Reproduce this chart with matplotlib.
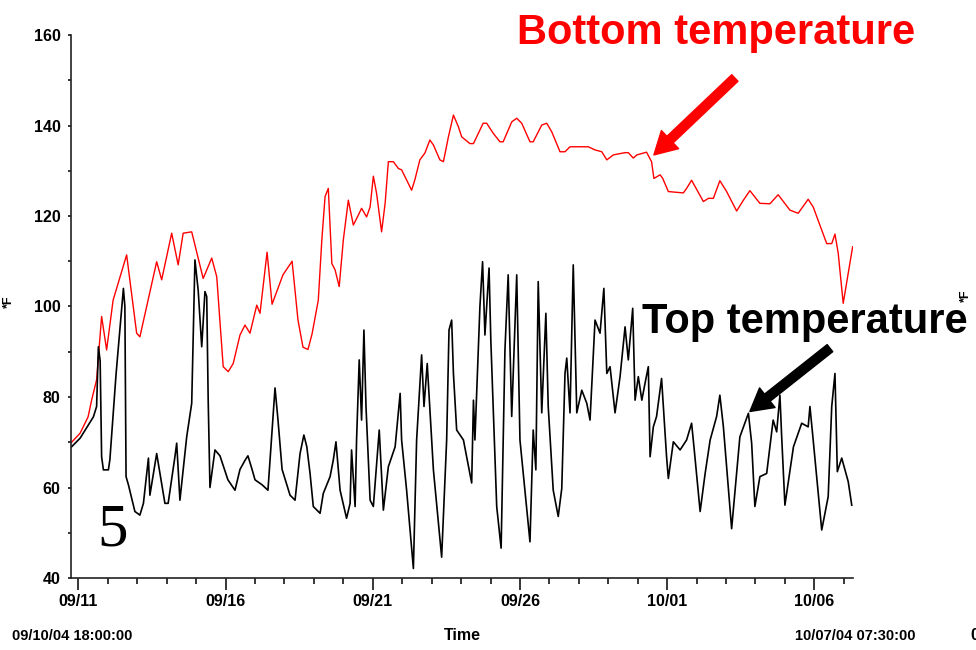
import matplotlib
matplotlib.use('Agg')
import matplotlib.pyplot as plt
from matplotlib.ticker import FixedLocator, MultipleLocator

# logger readings, time in days since 09/11 00:00, temperature in *F
bottom_days = [-0.23, 0.06, 0.33, 0.45, 0.62, 0.79, 0.96, 1.18, 1.64, 1.98,
               2.09, 2.66, 2.83, 3.17, 3.39, 3.56, 3.85, 4.24, 4.53, 4.70,
               4.92, 5.09, 5.26, 5.49, 5.66, 5.83, 6.06, 6.17, 6.41, 6.58,
               6.95, 7.26, 7.46, 7.63, 7.80, 7.94, 8.15, 8.27, 8.38, 8.49,
               8.55, 8.61, 8.72, 8.86, 9.00, 9.17, 9.34, 9.51, 9.62, 9.79,
               9.91, 10.02, 10.13, 10.30, 10.42, 10.53, 10.70, 10.87, 10.98, 11.32,
               11.43, 11.60, 11.77, 11.94, 12.06, 12.28, 12.40, 12.57, 12.74, 12.91,
               13.02, 13.30, 13.42, 13.75, 13.87, 14.09, 14.32, 14.43, 14.72, 14.89,
               15.06, 15.34, 15.45, 15.74, 15.91, 16.08, 16.36, 16.53, 16.70, 17.32,
               17.55, 17.78, 17.95, 18.17, 18.57, 18.68, 18.85, 18.97, 19.30, 19.47,
               19.55, 19.76, 19.85, 20.04, 20.55, 20.66, 20.83, 21.23, 21.40, 21.57,
               21.79, 22.02, 22.36, 22.59, 22.81, 23.15, 23.49, 23.77, 24.17, 24.45,
               24.79, 24.96, 25.42, 25.59, 25.70, 25.81, 25.98, 26.30]
bottom_temp = [70.0, 72.0, 75.6, 79.3, 83.8, 97.8, 90.4, 101.4, 111.4, 94.1,
               93.3, 109.9, 105.9, 116.2, 109.2, 116.2, 116.5, 106.2, 110.7, 106.6,
               86.7, 85.6, 87.4, 93.7, 95.9, 94.1, 100.3, 98.5, 112.0, 100.5,
               107.0, 110.0, 97.0, 91.0, 90.5, 94.0, 101.4, 114.7, 124.3, 126.1,
               117.6, 109.5, 108.1, 104.4, 114.7, 123.5, 118.0, 120.2, 121.7, 119.8,
               122.0, 128.8, 125.0, 116.5, 122.8, 132.0, 132.0, 130.5, 130.2, 125.7,
               128.0, 132.4, 133.9, 136.8, 135.7, 132.4, 132.0, 137.5, 142.3, 139.7,
               137.5, 136.0, 136.0, 140.5, 140.5, 138.3, 136.4, 136.4, 140.8, 141.6,
               140.5, 136.4, 136.4, 140.1, 140.5, 138.6, 134.2, 134.2, 135.3, 135.3,
               134.6, 134.2, 132.4, 133.5, 134.0, 134.0, 132.8, 133.5, 134.1, 132.0,
               128.3, 129.1, 128.3, 125.4, 125.1, 126.1, 127.9, 123.2, 123.9, 123.9,
               127.8, 125.4, 121.1, 123.5, 125.6, 122.8, 122.7, 124.7, 121.3, 120.6,
               123.7, 122.0, 113.9, 113.9, 116.0, 111.8, 100.7, 113.2]

top_days = [-0.23, 0.06, 0.51, 0.62, 0.68, 0.74, 0.79, 0.85, 1.02, 1.07,
            1.28, 1.53, 1.58, 1.62, 1.70, 1.92, 2.09, 2.21, 2.38, 2.43,
            2.66, 2.94, 3.05, 3.28, 3.34, 3.45, 3.68, 3.85, 3.96, 4.07,
            4.19, 4.30, 4.36, 4.41, 4.47, 4.64, 4.81, 5.08, 5.32, 5.49,
            5.66, 5.76, 5.90, 6.00, 6.24, 6.44, 6.58, 6.68, 6.78, 6.92,
            7.19, 7.36, 7.53, 7.66, 7.76, 7.87, 7.98, 8.21, 8.32, 8.55,
            8.66, 8.75, 8.89, 9.11, 9.23, 9.28, 9.40, 9.45, 9.54, 9.62,
            9.70, 9.77, 9.91, 10.02, 10.22, 10.36, 10.53, 10.76, 10.93, 10.98,
            11.15, 11.38, 11.49, 11.66, 11.74, 11.85, 12.06, 12.34, 12.51, 12.59,
            12.68, 12.74, 12.85, 13.08, 13.30, 13.36, 13.42, 13.47, 13.64, 13.73,
            13.81, 13.95, 14.01, 14.21, 14.36, 14.49, 14.60, 14.72, 14.89, 15.00,
            15.34, 15.45, 15.54, 15.62, 15.74, 15.88, 15.96, 16.13, 16.30, 16.42,
            16.53, 16.59, 16.70, 16.81, 16.93, 17.10, 17.27, 17.38, 17.55, 17.72,
            17.85, 17.95, 18.06, 18.23, 18.40, 18.57, 18.68, 18.83, 18.91, 19.02,
            19.14, 19.25, 19.36, 19.42, 19.53, 19.64, 19.81, 19.98, 20.04, 20.21,
            20.44, 20.66, 20.83, 20.91, 21.12, 21.29, 21.46, 21.68, 21.79, 21.91,
            22.19, 22.47, 22.76, 22.87, 22.98, 23.15, 23.38, 23.60, 23.72, 23.83,
            23.89, 24.00, 24.29, 24.57, 24.79, 24.85, 24.96, 25.25, 25.47, 25.59,
            25.70, 25.78, 25.93, 26.15, 26.27]
top_temp = [69.0, 70.9, 75.6, 77.9, 91.1, 88.0, 66.8, 63.9, 63.9, 66.1,
            85.0, 104.0, 100.0, 62.4, 60.6, 54.7, 53.9, 56.5, 66.5, 58.3,
            67.5, 56.5, 56.5, 66.8, 69.8, 57.2, 71.2, 78.6, 110.3, 103.6,
            91.1, 103.3, 102.2, 79.3, 60.0, 68.3, 67.0, 61.7, 59.4, 64.0,
            66.0, 67.0, 64.0, 61.7, 60.6, 59.4, 72.7, 82.0, 75.0, 64.0,
            58.3, 57.2, 67.5, 71.6, 69.0, 63.1, 55.8, 54.3, 58.7, 62.4,
            66.1, 70.1, 59.4, 53.2, 56.5, 68.3, 55.8, 70.5, 88.2, 74.9,
            94.8, 77.9, 57.2, 55.8, 72.7, 55.0, 64.6, 69.0, 80.8, 70.5,
            59.4, 42.1, 70.5, 89.3, 77.9, 87.4, 63.9, 44.6, 70.5, 94.8,
            97.0, 85.2, 72.7, 70.5, 63.1, 61.0, 79.3, 70.5, 100.0, 109.9,
            93.7, 108.5, 92.6, 55.8, 46.6, 90.4, 107.0, 75.7, 107.0, 70.5,
            48.0, 72.7, 63.9, 105.5, 76.5, 98.5, 77.9, 59.4, 53.6, 59.8,
            85.2, 88.6, 76.5, 109.2, 76.5, 81.5, 78.6, 74.9, 97.0, 94.1,
            104.0, 85.2, 86.7, 76.5, 84.5, 95.5, 88.2, 99.6, 79.3, 84.5,
            79.3, 83.1, 86.7, 66.8, 73.4, 75.7, 84.1, 66.8, 62.0, 70.1,
            68.3, 70.5, 74.2, 69.0, 54.7, 63.1, 70.5, 75.7, 80.4, 73.4,
            50.9, 71.2, 76.4, 69.8, 55.8, 62.4, 63.1, 74.9, 72.3, 80.4,
            71.2, 56.1, 69.0, 74.2, 73.4, 77.9, 70.5, 50.6, 58.0, 77.9,
            85.2, 63.5, 66.5, 61.3, 56.1]

tick_days = [0, 5, 10, 15, 20, 25]
tick_labels = ['09/11', '09/16', '09/21', '09/26', '10/01', '10/06']
t_start, t_end = -0.25, 26.3125
start_label = '09/10/04 18:00:00'
end_label = '10/07/04 07:30:00'

W, H = 976, 650
narrow = ['Liberation Sans Narrow', 'Liberation Sans']
arial = ['Liberation Sans', 'DejaVu Sans']

fig = plt.figure(figsize=(W / 100, H / 100), dpi=100)
ax = fig.add_axes([71 / W, 72 / H, 782 / W, 543 / H])

ax.plot(bottom_days, bottom_temp, color='#ff0000', lw=1.0)
ax.plot(top_days, top_temp, color='black', lw=1.2)

ax.set_xlim(t_start, t_end)
ax.set_ylim(40, 160)
for s in ['top', 'right']:
    ax.spines[s].set_visible(False)
for s in ['left', 'bottom']:
    ax.spines[s].set_linewidth(1.2)
    ax.spines[s].set_color('#222222')

ax.xaxis.set_major_locator(FixedLocator(tick_days))
ax.set_xticklabels(tick_labels)
ax.xaxis.set_minor_locator(MultipleLocator(1))
ax.yaxis.set_major_locator(MultipleLocator(20))
ax.yaxis.set_minor_locator(MultipleLocator(10))
ax.tick_params(axis='x', which='major', length=8.5, width=1.1, pad=3, labelsize=11.5)
ax.tick_params(axis='x', which='minor', length=4.3, width=1.1)
ax.tick_params(axis='y', which='both', length=2.5, width=1.1, pad=5, labelsize=11.5)
for lab in ax.get_xticklabels() + ax.get_yticklabels():
    lab.set_family(narrow)
    lab.set_fontweight('bold')

def fx(x, y):
    return x / W, 1 - y / H

# second row under the time axis
row = dict(va='center', fontweight='bold', family=narrow)
fig.text(*fx(12, 636), start_label, ha='left', fontsize=10.5, **row)
fig.text(*fx(462, 636), 'Time', ha='center', fontsize=11.5, **row)
fig.text(*fx(795, 636), end_label, ha='left', fontsize=10.5, **row)
fig.text(*fx(970, 636), '0', ha='left', fontsize=11.5, **row)

# unit labels
fig.text(*fx(9, 302), '*F', ha='center', va='center', rotation=90, fontsize=9,
         fontweight='bold', family=arial)
fig.text(*fx(966, 296), '*F', ha='center', va='center', rotation=90, fontsize=9,
         fontweight='bold', family=arial)

# slide number
fig.text(*fx(97, 546), '5', ha='left', va='baseline', fontsize=44,
         family=['Liberation Serif', 'DejaVu Serif'])

# callouts
fig.text(*fx(716, 33), 'Bottom temperature', ha='center', va='center', fontsize=30,
         fontweight='bold', color='#ff0000', family=arial)
fig.text(*fx(805, 322), 'Top temperature', ha='center', va='center', fontsize=30,
         fontweight='bold', color='black', family=arial)

arrow = 'simple,head_length=1.6,head_width=1.8,tail_width=0.65'
ax.annotate('', xy=(19.55, 133.5), xytext=(22.30, 150.5), annotation_clip=False,
            arrowprops=dict(arrowstyle=arrow, mutation_scale=10, color='#ff0000',
                            shrinkA=0, shrinkB=0))
ax.annotate('', xy=(22.81, 76.8), xytext=(25.53, 90.8), annotation_clip=False,
            arrowprops=dict(arrowstyle=arrow, mutation_scale=10, color='black',
                            shrinkA=0, shrinkB=0))

fig.savefig('out.png', dpi=100)
